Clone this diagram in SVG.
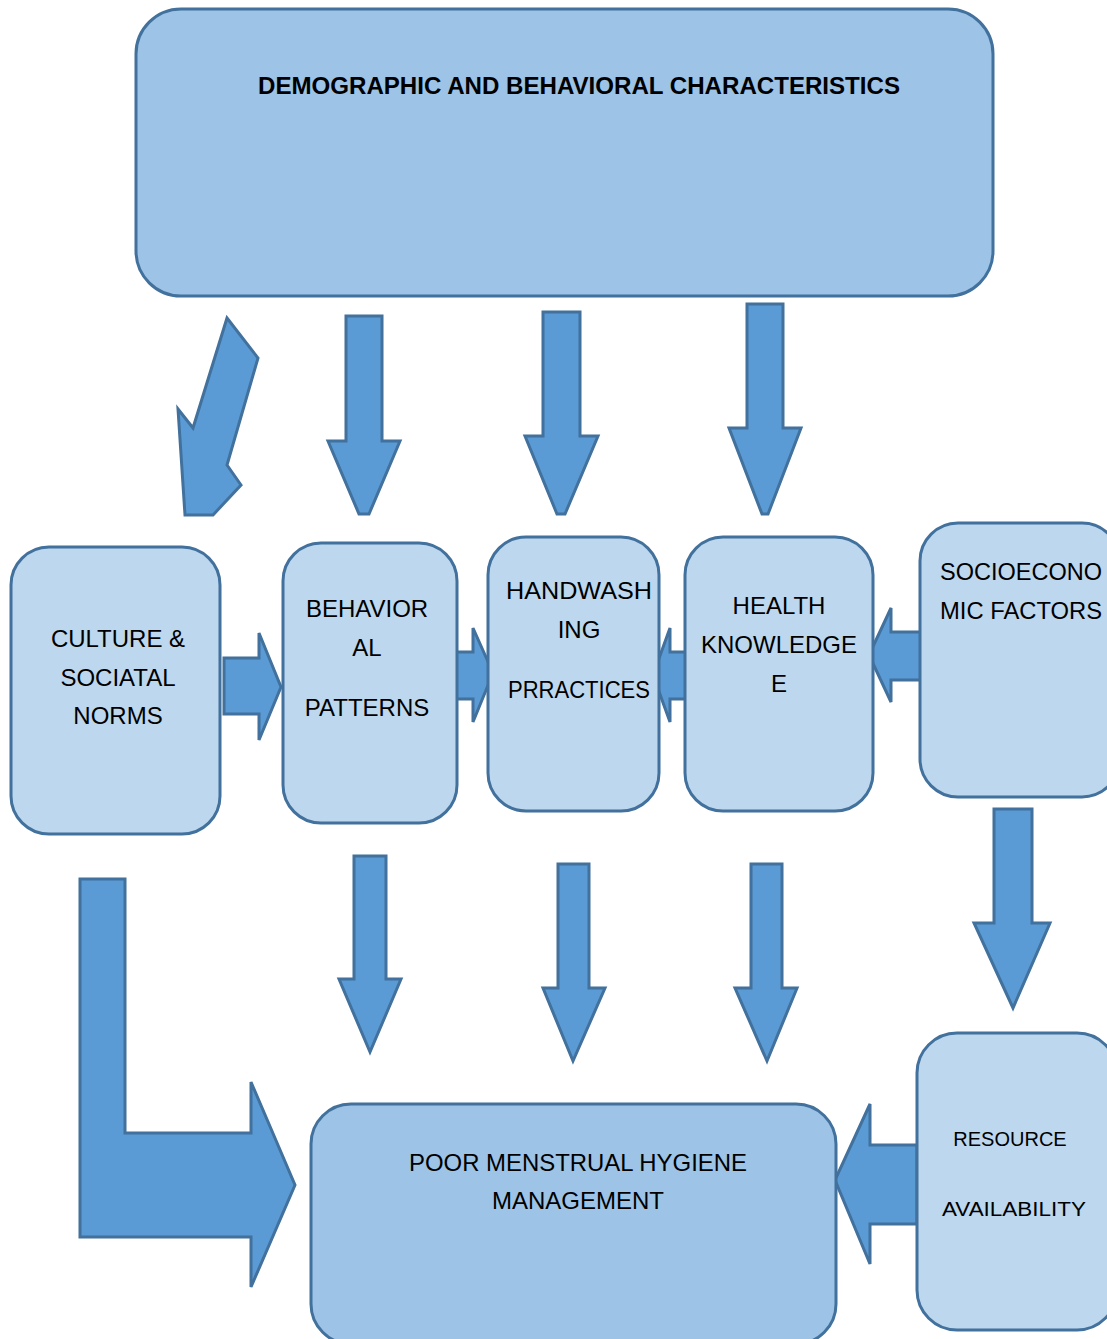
<svg xmlns="http://www.w3.org/2000/svg" width="1107" height="1339" viewBox="0 0 1107 1339">
<style>
.box{fill:#BDD7EE;stroke:#41719C;stroke-width:3}
.big{fill:#9DC3E6;stroke:#41719C;stroke-width:3}
.arr{fill:#5B9BD5;stroke:#41719C;stroke-width:3;stroke-linejoin:miter}
text{font-family:"Liberation Sans",Arial,sans-serif;fill:#000;text-anchor:middle}
.t{font-size:24px}
.s{font-size:20px}
.b{font-size:23px;font-weight:bold}
</style>
<rect width="1107" height="1339" fill="#fff"/>
<g id="connectors">
<polygon class="arr" points="227,318 258,358 227,465 241,485 213,515 185,515 178,409 193,428"/>
<polygon class="arr" points="346,316 382,316 382,441 400,441 369,514 359,514 328,441 346,441"/>
<polygon class="arr" points="543,312 580,312 580,436 598,436 565,514 557,514 525,436 543,436"/>
<polygon class="arr" points="747,304 783,304 783,428 801,428 768,514 762,514 729,428 747,428"/>
<polygon class="arr" points="224,658 259,658 259,633 281,687 259,740 259,714 224,714"/>
<polygon class="arr" points="451,652 473,652 473,628 493,673 473,722 473,699 451,699"/>
<polygon class="arr" points="687,652 670,652 670,628 653,675 670,722 670,699 687,699"/>
<polygon class="arr" points="921,632 891,632 891,608 869,655 891,702 891,680 921,680"/>
<polygon class="arr" points="354,856 386,856 386,979 401,979 370,1052 339,979 354,979"/>
<polygon class="arr" points="558,864 589,864 589,988 605,988 573,1061 543,988 558,988"/>
<polygon class="arr" points="751,864 782,864 782,988 797,988 767,1061 735,988 751,988"/>
<polygon class="arr" points="994,809 1032,809 1032,923 1050,923 1013,1008 974,923 994,923"/>
<polygon class="arr" points="917,1145 870,1145 870,1104 835,1180 870,1264 870,1224 917,1224"/>
<polygon class="arr" points="80,879 125,879 125,1133 251,1133 251,1082 295,1185 251,1287 251,1237 80,1237"/>
</g>
<g id="n-demographic">
<rect class="big" x="136" y="9" width="857" height="287" rx="45" ry="45"/>
<text class="b" x="579" y="94" textLength="642" lengthAdjust="spacingAndGlyphs">DEMOGRAPHIC AND BEHAVIORAL CHARACTERISTICS</text>
</g>
<g id="n-culture">
<rect class="box" x="11" y="547" width="209" height="287" rx="38" ry="38"/>
<text class="t" x="118" y="647">CULTURE &amp;</text>
<text class="t" x="118" y="686">SOCIATAL</text>
<text class="t" x="118" y="724">NORMS</text>
</g>
<g id="n-behavioral">
<rect class="box" x="283" y="543" width="174" height="280" rx="38" ry="38"/>
<text class="t" x="367" y="617">BEHAVIOR</text>
<text class="t" x="367" y="656">AL</text>
<text class="t" x="367" y="716">PATTERNS</text>
</g>
<g id="n-handwashing">
<rect class="box" x="488" y="537" width="171" height="274" rx="38" ry="38"/>
<text class="t" x="579" y="599" textLength="146" lengthAdjust="spacingAndGlyphs">HANDWASH</text>
<text class="t" x="579" y="638">ING</text>
<text class="t" x="579" y="698" textLength="142" lengthAdjust="spacingAndGlyphs">PRRACTICES</text>
</g>
<g id="n-health">
<rect class="box" x="685" y="537" width="188" height="274" rx="38" ry="38"/>
<text class="t" x="779" y="614">HEALTH</text>
<text class="t" x="779" y="653" textLength="156" lengthAdjust="spacingAndGlyphs">KNOWLEDGE</text>
<text class="t" x="779" y="692">E</text>
</g>
<g id="n-socioeconomic">
<rect class="box" x="920" y="523" width="200" height="274" rx="38" ry="38"/>
<text class="t" x="940" y="580" style="text-anchor:start" textLength="162" lengthAdjust="spacingAndGlyphs">SOCIOECONO</text>
<text class="t" x="940" y="619" style="text-anchor:start" textLength="162" lengthAdjust="spacingAndGlyphs">MIC FACTORS</text>
</g>
<g id="n-resource">
<rect class="box" x="917" y="1033" width="200" height="297" rx="40" ry="40"/>
<text class="s" x="1010" y="1146">RESOURCE</text>
<text class="s" x="1014" y="1216" textLength="144" lengthAdjust="spacingAndGlyphs">AVAILABILITY</text>
</g>
<g id="n-poor">
<rect class="big" x="311" y="1104" width="525" height="240" rx="40" ry="40"/>
<text class="t" x="578" y="1171" textLength="338" lengthAdjust="spacingAndGlyphs">POOR MENSTRUAL HYGIENE</text>
<text class="t" x="578" y="1209">MANAGEMENT</text>
</g>
</svg>
